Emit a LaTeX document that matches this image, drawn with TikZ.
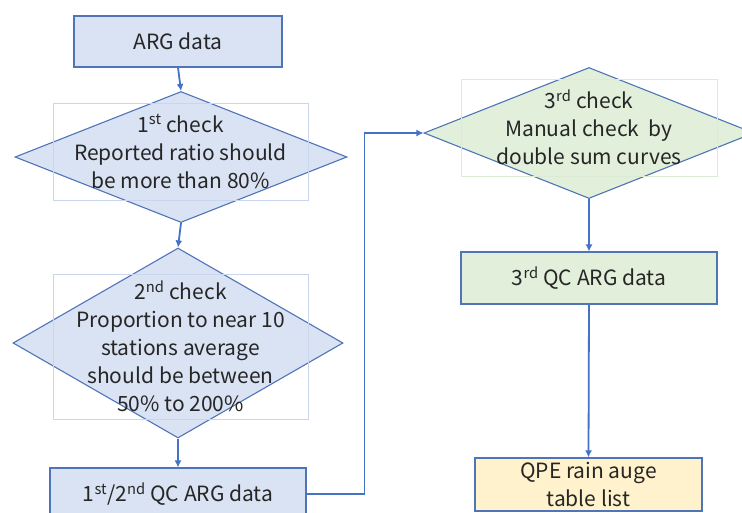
\documentclass[tikz,border=0pt]{standalone}
\usepackage{fontspec}
\setmainfont{Noto Sans CJK JP}
\usetikzlibrary{shapes.geometric,arrows.meta}
\definecolor{bfill}{HTML}{DAE3F3}
\definecolor{gfill}{HTML}{E2EFDA}
\definecolor{yfill}{HTML}{FFF2CC}
\definecolor{bline}{HTML}{4F74B8}
\definecolor{arr}{HTML}{4472C4}
\definecolor{fblue}{HTML}{C9D6EE}
\definecolor{fgreen}{HTML}{DCEBD3}
\definecolor{txt}{HTML}{262626}
\tikzset{
  boxn/.style={draw=bline, line width=1.1pt, inner sep=0pt, text=txt, font=\fontsize{21}{28}\selectfont, align=center},
  dia/.style={diamond, draw=bline, line width=1.1pt, inner sep=0pt},
  frame/.style={draw=#1, line width=0.9pt, inner sep=0pt, text=txt, font=\fontsize{21}{28}\selectfont, align=center},
  conn/.style={draw=arr, line width=1.8pt, -{Latex[length=7pt,width=7pt]}},
}
\newcommand{\sps}[1]{\textsuperscript{#1}}
\begin{document}
\begin{tikzpicture}[x=1pt,y=-1pt]
\useasboundingbox (0,0) rectangle (742,512);
\clip (0,0) rectangle (742,512);
% boxes
\node[boxn, fill=bfill, minimum width=208pt, minimum height=51pt] (arg) at (178,41.5) {ARG data};
\node[dia, fill=bfill, minimum width=332pt, minimum height=131pt] (d1) at (181,157) {};
\node[frame=fblue, minimum width=255pt, minimum height=97pt] (r1) at (180.5,151.5) {1\sps{st} check\\Reported ratio should\\be more than 80\%};
\node[dia, fill=bfill, minimum width=330pt, minimum height=190pt] (d2) at (178,343) {};
\node[frame=fblue, minimum width=255pt, minimum height=145pt] (r2) at (180.5,346.5) {2\sps{nd} check\\Proportion to near 10\\stations average\\should be between\\50\% to 200\%};
\node[boxn, fill=bfill, minimum width=256pt, minimum height=52pt] (b12) at (178,494) {1\sps{st}/2\sps{nd} QC ARG data};
\node[dia, fill=gfill, minimum width=330pt, minimum height=131pt] (d3) at (589,133) {};
\node[frame=fgreen, minimum width=256pt, minimum height=97pt] (r3) at (589,127.5) {3\sps{rd} check\\Manual check\ \ by\\double sum curves};
\node[boxn, fill=gfill, minimum width=256pt, minimum height=52pt] (qc3) at (589,278) {3\sps{rd} QC ARG data};
\node[boxn, fill=yfill, minimum width=227pt, minimum height=53pt] (qpe) at (588.5,484.5) {QPE rain auge\\table list};
% connectors
\draw[conn] (arg.south) -- (d1.north);
\draw[conn] (d1.south) -- (d2.north);
\draw[conn] (d2.south) -- (b12.north);
\draw[conn] (b12.east) -- ++(58,0) |- (d3.west);
\draw[conn] (d3.south) -- (qc3.north);
\draw[conn] (qc3.south) -- (qpe.north);
\end{tikzpicture}
\end{document}
